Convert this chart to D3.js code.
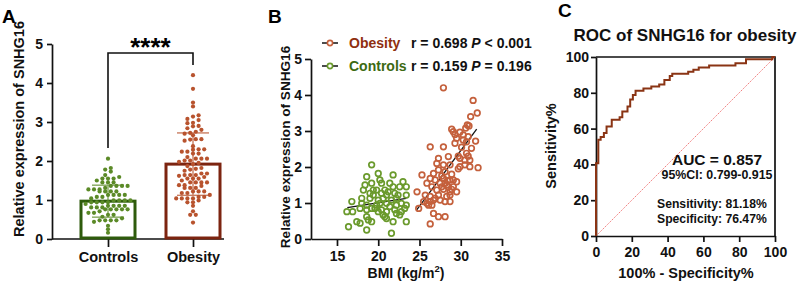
<!DOCTYPE html>
<html>
<head>
<meta charset="utf-8">
<script src="https://cdn.jsdelivr.net/npm/d3@7"></script>
<style>
body { margin: 0; background: #fff; }
text { font-family: "Liberation Sans", Arial, sans-serif; font-weight: bold; }
</style>
</head>
<body>
<div id="chart"></div>
<script>

// ---- data ----
const groups = ['Controls', 'Obesity']
const ctrlBmi = [19.2,18.6,20.0,21.8,18.4,19.2,20.2,20.4,21.4,21.8,23.0,23.4,22.6,18.2,19.4,19.8,20.8,21.2,22.0,19.0,
	19.4,20.4,21.0,22.4,23.4,18.0,19.0,20.0,20.6,21.6,22.2,16.8,18.0,18.6,19.8,21.0,22.8,23.4,18.6,19.6,
	20.4,21.0,22.0,23.2,16.2,16.9,17.8,20.6,21.0,22.2,22.6,22.8,18.6,18.8,19.2,17.4,17.8,20.8,21.8,23.4,
	16.4,18.6,21.6,20.0,21.4,22.2,19.2,20.2]
const ctrlExpr = [2.06,1.73,1.82,1.78,1.50,1.55,1.64,1.55,1.55,1.45,1.59,1.45,1.45,1.36,1.36,1.36,1.36,1.31,1.27,1.27,
	1.22,1.27,1.22,1.22,1.22,1.13,1.13,1.08,1.13,1.08,1.13,1.04,0.99,0.94,0.94,0.99,0.99,0.94,0.81,0.85,
	0.81,0.76,0.81,0.85,0.76,0.76,0.85,0.67,0.57,0.71,0.67,0.76,0.62,0.53,0.48,0.48,0.44,0.62,0.48,0.48,
	0.34,0.25,0.16,0.76,0.90,0.94,0.85,0.99]
const obBmi = [27.9,31.5,32.0,31.2,30.8,30.6,31.0,28.9,29.1,29.9,30.3,29.5,30.9,31.8,30.7,26.3,27.9,29.3,30.3,31.3,
	30.7,29.9,30.5,28.5,27.3,27.1,27.9,28.7,29.9,30.5,31.1,32.1,31.1,25.3,26.7,27.3,28.1,26.3,26.9,27.9,
	28.7,25.9,26.5,27.5,28.1,28.5,29.1,27.1,27.9,28.7,29.5,24.7,25.7,26.3,27.3,28.3,28.7,26.7,27.5,28.1,
	26.3,25.9,26.5,25.5,26.9,28.7,24.9,26.1,26.7,27.3,28.1,26.3,29.1,29.5,28.3,27.7,28.9,29.7,30.1,30.9,
	29.3,27.7,28.9,28.4,29.7]
const obExpr = [4.20,3.85,3.50,3.40,3.17,3.08,3.14,3.05,2.98,2.97,2.89,2.80,2.84,2.72,2.70,2.56,2.56,2.66,2.75,2.52,
	2.38,2.24,2.19,2.29,2.24,2.10,2.06,2.06,2.01,2.06,2.01,1.98,2.19,1.78,1.82,1.92,1.87,1.68,1.64,1.68,
	1.64,1.55,1.45,1.55,1.55,1.45,1.45,1.36,1.38,1.31,1.31,1.31,1.22,1.18,1.22,1.18,1.22,1.08,1.08,1.04,
	1.04,0.99,0.94,1.04,1.13,1.04,0.85,0.94,0.71,0.62,0.62,0.42,1.64,1.59,1.50,1.75,1.80,2.30,2.55,2.30,
	2.90,1.45,1.38,1.62,1.95]
const barMeans = [0.97, 1.92]
const barSD = [0.41, 0.80]
const exprTicks = [0, 1, 2, 3, 4, 5]
const bmiTicks = [15, 20, 25, 30, 35]
const rocTicks = [0, 20, 40, 60, 80, 100]
const ctrlFit = [[16.25, 0.87], [23.4, 1.13]]
const obFit = [[24.66, 0.81], [31.93, 3.05]]
const legendNames = ['Obesity', 'Controls']
const legendR = ['0.698', '0.159']
const legendP = ['< 0.001', '= 0.196']
const rocFpr = [0, 0, 1.3, 2.6, 4.4, 5.9, 8.8, 13.2, 14.7, 17.6, 19.1, 20.6, 22.1, 26.5, 30.9, 35.3, 38.2, 41.2, 42.6, 51.5, 54.4, 57.4, 63.2, 77.9, 83.8, 98.5, 100]
const rocTpr = [0, 40.7, 53.8, 55.3, 57.5, 61.2, 65.0, 66.3, 69.6, 72.4, 76.2, 78.8, 81.2, 82.4, 83.5, 84.7, 87.1, 89.4, 90.6, 91.8, 92.9, 94.1, 95.3, 96.5, 98.8, 100, 100]
const rocStats = ['AUC = 0.857', '95%CI: 0.799-0.915', 'Sensitivity: 81.18%', 'Specificity: 76.47%']

// colours
const dotCol = ['#5b8a27', '#b8532e']
const barCol = ['#2e5b0c', '#7c2410']
const ptCol = ['#6a9a2c', '#c4603c']
const txtCol = ['#8f2f10', '#3c6a12']

const svg = d3.select('#chart').append('svg')
	.attr('width', 799)
	.attr('height', 287)

const styleAxis = function(g, size){
	g.attr('font-family', null).attr('font-size', size)
	g.selectAll('path, line').attr('stroke', '#111').attr('stroke-width', 1.7)
	g.selectAll('text').attr('fill', '#111')
}

const vlabel = function(x, y, txt, size){
	svg.append('text')
		.attr('transform', 'translate(' + x + ',' + y + ') rotate(-90)')
		.attr('text-anchor', 'middle')
		.style('font-size', size + 'px')
		.attr('fill', '#111')
		.text(txt)
}

const fmt = d3.format('d')

// ================= panel A =================
const yA = d3.scaleLinear().domain([0, 5]).range([239, 44])
const xA = d3.scalePoint().domain(groups).range([108, 193])

svg.append('text').attr('x', 2).attr('y', 23).style('font-size', '19px').text('A')
vlabel(24, 129, 'Relative expression of SNHG16', 14.5)

svg.append('g')
	.attr('transform', 'translate(52,0)')
	.call(d3.axisLeft(yA).tickValues(exprTicks).tickFormat(fmt).tickSize(5).tickSizeOuter(0).tickPadding(4))
	.call(g => styleAxis(g, 14))

svg.append('line')
	.attr('x1', 52).attr('x2', 224).attr('y1', yA(0)).attr('y2', yA(0))
	.attr('stroke', '#111').attr('stroke-width', 1.7)
svg.append('g')
	.attr('transform', 'translate(0,' + yA(0) + ')')
	.call(d3.axisBottom(xA).tickSize(8).tickSizeOuter(0).tickPadding(5))
	.call(g => { g.select('.domain').remove(); styleAxis(g, 14.5) })

// bars
const barW = 54
svg.append('g').selectAll('rect')
	.data(groups)
	.enter()
	.append('rect')
		.attr('x', d => xA(d) - barW / 2)
		.attr('y', (d, i) => yA(barMeans[i]))
		.attr('width', barW)
		.attr('height', (d, i) => yA(0) - yA(barMeans[i]) - 1)
		.attr('fill', 'none')
		.attr('stroke', (d, i) => barCol[i])
		.attr('stroke-width', 3)

// dots, binned into rows like a column scatter
const swarm = function(vals, cx){
	const rows = d3.groups(vals.slice().sort(d3.ascending), v => Math.round(v / 0.12))
	const out = []
	rows.forEach(([k, vs]) => {
		vs.forEach((v, j) => {
			out.push([cx + (j - (vs.length - 1) / 2) * 5.6, v])
		})
	})
	return out
}
;[ctrlExpr, obExpr].forEach((vals, i) => {
	svg.append('g').selectAll('circle')
		.data(swarm(vals, xA(groups[i])))
		.enter()
		.append('circle')
			.attr('cx', d => d[0])
			.attr('cy', d => yA(d[1]))
			.attr('r', 2.1)
			.attr('fill', dotCol[i])
})

// error bars (mean +/- SD)
groups.forEach((gname, i) => {
	const cx = xA(gname)
	const e = svg.append('g').attr('stroke', dotCol[i]).attr('stroke-width', 1.4).attr('opacity', 0.75)
	e.append('line').attr('x1', cx).attr('x2', cx)
		.attr('y1', yA(barMeans[i] - barSD[i])).attr('y2', yA(barMeans[i] + barSD[i]))
	;[-1, 1].forEach(s => {
		e.append('line').attr('x1', cx - 16).attr('x2', cx + 16)
			.attr('y1', yA(barMeans[i] + s * barSD[i])).attr('y2', yA(barMeans[i] + s * barSD[i]))
	})
})

// significance bracket
svg.append('path')
	.attr('d', `M${xA('Controls')},148 V53 H${xA('Obesity')} V65`)
	.attr('fill', 'none')
	.attr('stroke', '#111')
	.attr('stroke-width', 1.6)
svg.append('text')
	.attr('x', (xA('Controls') + xA('Obesity')) / 2)
	.attr('y', 56)
	.attr('text-anchor', 'middle')
	.style('font-size', '26px')
	.text('****')

// ================= panel B =================
const xB = d3.scaleLinear().domain([11.85, 35]).range([311, 502])
const yB = d3.scaleLinear().domain([0, 5]).range([239, 59])

svg.append('text').attr('x', 268).attr('y', 23).style('font-size', '19px').text('B')
vlabel(290, 147, 'Relative expression of SNHG16', 13.6)

svg.append('g')
	.attr('transform', 'translate(311,0)')
	.call(d3.axisLeft(yB).tickValues(exprTicks).tickFormat(fmt).tickSize(6).tickSizeOuter(0).tickPadding(3))
	.call(g => styleAxis(g, 14))
svg.append('g')
	.attr('transform', 'translate(0,239)')
	.call(d3.axisBottom(xB).tickValues(bmiTicks).tickFormat(fmt).tickSize(7).tickSizeOuter(0).tickPadding(5))
	.call(g => styleAxis(g, 14))

const bmiLabel = svg.append('text')
	.attr('x', 406).attr('y', 278)
	.attr('text-anchor', 'middle')
	.style('font-size', '14px')
	.attr('fill', '#111')
bmiLabel.append('tspan').text('BMI (kg/m')
bmiLabel.append('tspan').attr('dy', -6).style('font-size', '9.5px').text('2')
bmiLabel.append('tspan').attr('dy', 6).text(')')

// regression lines
const fitLine = d3.line().x(d => xB(d[0])).y(d => yB(d[1]))
;[ctrlFit, obFit].forEach(f => {
	svg.append('path').attr('d', fitLine(f))
		.attr('stroke', '#111').attr('stroke-width', 1.3).attr('fill', 'none')
})

// points
const scat = [[ctrlBmi, ctrlExpr], [obBmi, obExpr]]
scat.forEach(([bx, ex], i) => {
	svg.append('g').selectAll('circle')
		.data(bx.map((b, j) => [b, ex[j]]))
		.enter()
		.append('circle')
			.attr('cx', d => xB(d[0]))
			.attr('cy', d => yB(d[1]))
			.attr('r', 2.8)
			.attr('fill', 'none')
			.attr('stroke', ptCol[i])
			.attr('stroke-width', 1.7)
})

// legend
legendNames.forEach((name, i) => {
	const ly = 43 + i * 23
	const col = i == 0 ? ptCol[1] : ptCol[0]
	svg.append('line').attr('x1', 322).attr('x2', 338).attr('y1', ly).attr('y2', ly)
		.attr('stroke', '#111').attr('stroke-width', 1.5)
	svg.append('circle').attr('cx', 330).attr('cy', ly).attr('r', 2.6)
		.attr('fill', '#fff').attr('stroke', col).attr('stroke-width', 1.6)
	svg.append('text').attr('x', 349).attr('y', ly + 5)
		.style('font-size', '14px').attr('fill', txtCol[i]).text(name)
	const st = svg.append('text').attr('x', 411).attr('y', ly + 5)
		.style('font-size', '14px').attr('fill', '#111')
	st.append('tspan').text('r = ' + legendR[i] + ' ')
	st.append('tspan').style('font-style', 'italic').text('P')
	st.append('tspan').text(' ' + legendP[i])
})

// ================= panel C =================
const xC = d3.scaleLinear().domain([0, 100]).range([596, 775])
const yC = d3.scaleLinear().domain([0, 100]).range([236, 57])

svg.append('text').attr('x', 558).attr('y', 17).style('font-size', '19px').text('C')
svg.append('text').attr('x', 685).attr('y', 41).attr('text-anchor', 'middle')
	.style('font-size', '17px').attr('fill', '#111').text('ROC of SNHG16 for obesity')
vlabel(556, 146, 'Sensitivity%', 14.5)
svg.append('text').attr('x', 686).attr('y', 278).attr('text-anchor', 'middle')
	.style('font-size', '14.5px').attr('fill', '#111').text('100% - Specificity%')

// frame
svg.append('path')
	.attr('d', `M${xC(0)},${yC(100)} H${xC(100)} V${yC(0)}`)
	.attr('fill', 'none').attr('stroke', '#111').attr('stroke-width', 1.7)

svg.append('g')
	.attr('transform', 'translate(596,0)')
	.call(d3.axisLeft(yC).tickValues(rocTicks).tickFormat(fmt).tickSize(5).tickSizeOuter(0).tickPadding(2))
	.call(g => styleAxis(g, 14))
svg.append('g')
	.attr('transform', 'translate(0,236)')
	.call(d3.axisBottom(xC).tickValues(rocTicks).tickFormat(fmt).tickSize(6).tickSizeOuter(0).tickPadding(5))
	.call(g => styleAxis(g, 14))

// reference diagonal
svg.append('line')
	.attr('x1', xC(0)).attr('y1', yC(0)).attr('x2', xC(100)).attr('y2', yC(100))
	.attr('stroke', '#ee6f6f').attr('stroke-width', 0.9).attr('stroke-dasharray', '1.5,1')

// roc curve
const rocLine = d3.line()
	.x(d => xC(d[0]))
	.y(d => yC(d[1]))
	.curve(d3.curveStepAfter)
svg.append('path')
	.attr('d', rocLine(rocFpr.map((f, i) => [f, rocTpr[i]])))
	.attr('fill', 'none')
	.attr('stroke', '#8a3414')
	.attr('stroke-width', 2)

// stats
svg.append('text').attr('x', 717).attr('y', 165).attr('text-anchor', 'middle')
	.style('font-size', '15.5px').attr('fill', '#111').text(rocStats[0])
svg.append('text').attr('x', 717).attr('y', 179).attr('text-anchor', 'middle')
	.style('font-size', '12.4px').attr('fill', '#111').text(rocStats[1])
svg.append('text').attr('x', 657).attr('y', 208)
	.style('font-size', '12.2px').attr('fill', '#111').text(rocStats[2])
svg.append('text').attr('x', 657).attr('y', 223)
	.style('font-size', '12.2px').attr('fill', '#111').text(rocStats[3])

</script>
</body>
</html>
